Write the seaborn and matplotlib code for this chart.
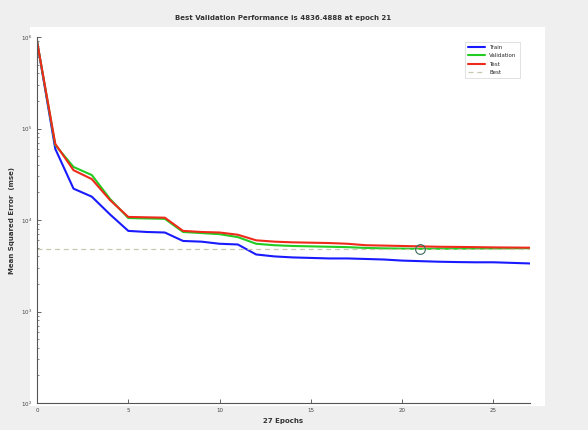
import numpy as np
import pandas as pd
import matplotlib
matplotlib.use("Agg")
import matplotlib.pyplot as plt
import seaborn as sns

# === DATA ===
epochs = list(range(28))
train_mse = [9.0e5, 6.0e4, 2.2e4, 1.8e4, 1.15e4, 7.6e3, 7.4e3, 7.3e3, 5.9e3, 5.8e3,
             5.5e3, 5.4e3, 4.2e3, 4.0e3, 3.9e3, 3.85e3, 3.8e3, 3.8e3, 3.75e3, 3.7e3,
             3.6e3, 3.55e3, 3.5e3, 3.47e3, 3.45e3, 3.45e3, 3.4e3, 3.35e3]
val_mse = [9.0e5, 6.6e4, 3.8e4, 3.1e4, 1.7e4, 1.05e4, 1.04e4, 1.03e4, 7.4e3, 7.2e3,
           7.0e3, 6.5e3, 5.5e3, 5.3e3, 5.2e3, 5.15e3, 5.1e3, 5.05e3, 4.95e3, 4.9e3,
           4.87e3, 4836.4888, 4.85e3, 4.86e3, 4.87e3, 4.88e3, 4.9e3, 4.92e3]
test_mse = [9.0e5, 6.8e4, 3.5e4, 2.8e4, 1.65e4, 1.08e4, 1.07e4, 1.06e4, 7.6e3, 7.4e3,
            7.3e3, 6.9e3, 6.0e3, 5.8e3, 5.7e3, 5.65e3, 5.6e3, 5.5e3, 5.3e3, 5.25e3,
            5.2e3, 5.15e3, 5.1e3, 5.08e3, 5.05e3, 5.02e3, 5.0e3, 4.98e3]
best_epoch = 21
best_perf = 4836.4888
x_ticks = [0, 5, 10, 15, 20, 25]

# === STYLE ===
sns.set_style("white")
plt.rcParams["font.family"] = ["DejaVu Sans"]

df = pd.DataFrame({
    "epoch": epochs * 3,
    "mse": train_mse + val_mse + test_mse,
    "set": ["Train"] * 28 + ["Validation"] * 28 + ["Test"] * 28,
})
palette = {"Train": "#1a1aff", "Validation": "#22cc22", "Test": "#ee2a1a"}

fig = plt.figure(figsize=(5.88, 4.30), dpi=100, facecolor="#efefef")
# white plotting area (a bit larger than the axes, as in the reference)
bg = fig.add_axes([30 / 588, 1 - 406 / 430, (545 - 30) / 588, (406 - 27) / 430])
bg.set_facecolor("white")
bg.set_xticks([])
bg.set_yticks([])
for s in bg.spines.values():
    s.set_visible(False)

ax = fig.add_axes([37 / 588, 1 - 403 / 430, (530 - 37) / 588, (403 - 37) / 430])
ax.set_facecolor("none")

sns.lineplot(data=df, x="epoch", y="mse", hue="set", palette=palette,
             linewidth=1.5, ax=ax)

# best validation marker + dotted line
ax.axhline(best_perf, color="#c8c8b0", linestyle=(0, (4, 3)), linewidth=0.9, label="Best")
ax.plot([best_epoch], [best_perf], marker="o", markersize=7, markerfacecolor="none",
        markeredgecolor="#3a6a5a", markeredgewidth=0.8, linestyle="none")

ax.set_yscale("log")
ax.set_ylim(1e2, 1e6)
ax.set_xlim(0, 27)
ax.set_xticks(x_ticks)
ax.tick_params(axis="both", direction="in", labelsize=4, length=3, width=0.5,
               labelcolor="#444444")
ax.tick_params(which="minor", direction="in", length=1.5, width=0.4)
ax.tick_params(axis="y", which="both", left=True)
ax.tick_params(axis="x", which="both", bottom=True)

for side in ["top", "right"]:
    ax.spines[side].set_visible(False)
for side in ["left", "bottom"]:
    ax.spines[side].set_color("#555555")
    ax.spines[side].set_linewidth(0.8)

ax.set_title("Best Validation Performance is 4836.4888 at epoch 21",
             fontsize=5, fontweight="bold", pad=12, color="#333333")
ax.set_xlabel("27 Epochs", fontsize=5, fontweight="bold", labelpad=4, color="#333333")
ax.set_ylabel("Mean Squared Error  (mse)", fontsize=5, fontweight="bold", labelpad=4,
              color="#333333")

handles, labels = ax.get_legend_handles_labels()
order = [labels.index(n) for n in ["Train", "Validation", "Test", "Best"]]
leg = ax.legend([handles[i] for i in order], [labels[i] for i in order],
                loc="upper right", fontsize=4, frameon=True, fancybox=False,
                handlelength=3, borderpad=0.6, labelspacing=0.6,
                bbox_to_anchor=(0.985, 0.995))
leg.get_frame().set_edgecolor("#cccccc")
leg.get_frame().set_linewidth(0.5)

plt.savefig("out.png", dpi=100, facecolor=fig.get_facecolor())
